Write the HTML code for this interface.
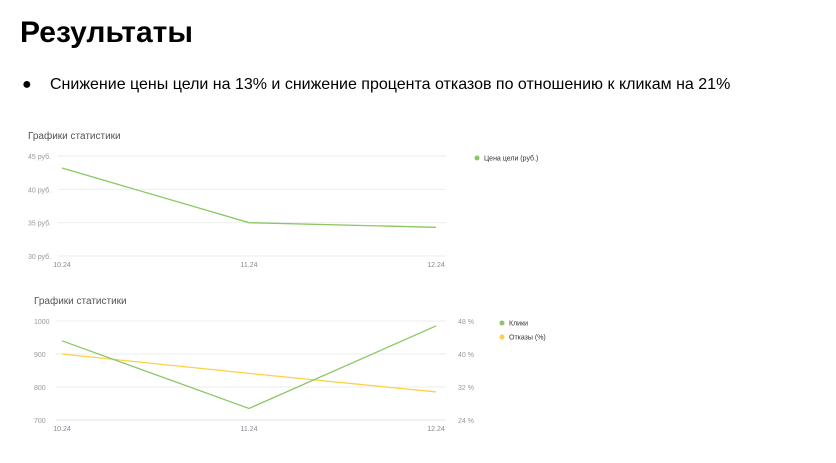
<!DOCTYPE html>
<html><head><meta charset="utf-8"><style>
body{margin:0;width:836px;height:463px;background:#fff;font-family:"Liberation Sans",sans-serif;overflow:hidden;position:relative}
h1{position:absolute;left:20px;top:16px;margin:0;font-size:30px;font-weight:bold;color:#000}
.b{position:absolute;left:22px;top:76px;font-size:16px;color:#000}
.b span{display:inline-block;width:28px}
svg{position:absolute;left:0;top:0}
</style></head><body>
<h1>Результаты</h1>
<div class="b"><span>●</span>Снижение цены цели на 13% и снижение процента отказов по отношению к кликам на 21%</div>
<svg id="s" width="836" height="463"></svg>
<script>
const months=["10.24","11.24","12.24"];
const price=[43.2,35,34.3];
const priceTicks=[30,35,40,45];
const clicks=[940,735,985];
const bounce=[40,35.3,30.8];
const clickTicks=[700,800,900,1000];
const bounceTicks=[24,32,40,48];
const s=document.getElementById('s');
const NS='http://www.w3.org/2000/svg';
function el(t,a,txt){const e=document.createElementNS(NS,t);for(const k in a)e.setAttribute(k,a[k]);if(txt!==undefined)e.textContent=txt;s.appendChild(e);return e;}
const x0=62,x1=436;
const xs=i=>x0+(x1-x0)*i/(months.length-1);
// chart 1
const y1=v=>256-(v-30)/15*100;
let t=el('text',{x:28,y:139,'font-size':10,fill:'#555'},'Графики статистики');

priceTicks.forEach(v=>{const g=el('line',{x1:58,x2:446,y1:y1(v),y2:y1(v),stroke:'#eee'});

const l=el('text',{x:28,y:y1(v)+3,'font-size':7,fill:'#999'},v+' руб.');
});
months.forEach((m,i)=>{const l=el('text',{x:xs(i),y:267,'font-size':7,fill:'#888','text-anchor':'middle'},m);
});
let p=el('polyline',{points:price.map((v,i)=>xs(i)+','+y1(v)).join(' '),fill:'none',stroke:'#8cc763','stroke-width':1.3});

let c=el('circle',{cx:477,cy:158,r:2.5,fill:'#8cc763'});
t=el('text',{x:484,y:160.5,'font-size':7,fill:'#333'},'Цена цели (руб.)');
// chart 2
const y2=v=>420-(v-700)/300*99;
const y3=v=>420-(v-24)/24*99;
t=el('text',{x:34,y:304,'font-size':10,fill:'#555'},'Графики статистики');

clickTicks.forEach((v,i)=>{const g=el('line',{x1:56,x2:446,y1:y2(v),y2:y2(v),stroke:i==0?'#dde4f5':'#eee'});

const l=el('text',{x:34,y:y2(v)+3,'font-size':7,fill:'#999'},v);
});
bounceTicks.forEach(v=>{const l=el('text',{x:458,y:y3(v)+3,'font-size':7,fill:'#999'},v+' %');
});
months.forEach((m,i)=>{const l=el('text',{x:xs(i),y:431,'font-size':7,fill:'#888','text-anchor':'middle'},m);
});
p=el('polyline',{points:bounce.map((v,i)=>xs(i)+','+y3(v)).join(' '),fill:'none',stroke:'#fdd04a','stroke-width':1.3});

p=el('polyline',{points:clicks.map((v,i)=>xs(i)+','+y2(v)).join(' '),fill:'none',stroke:'#8cc763','stroke-width':1.3});

c=el('circle',{cx:502,cy:323,r:2.5,fill:'#8cc763'});
t=el('text',{x:509,y:325.5,'font-size':7,fill:'#333'},'Клики');
c=el('circle',{cx:502,cy:337,r:2.5,fill:'#fdd04a'});
t=el('text',{x:509,y:339.5,'font-size':7,fill:'#333'},'Отказы (%)');
</script>
</body></html>
